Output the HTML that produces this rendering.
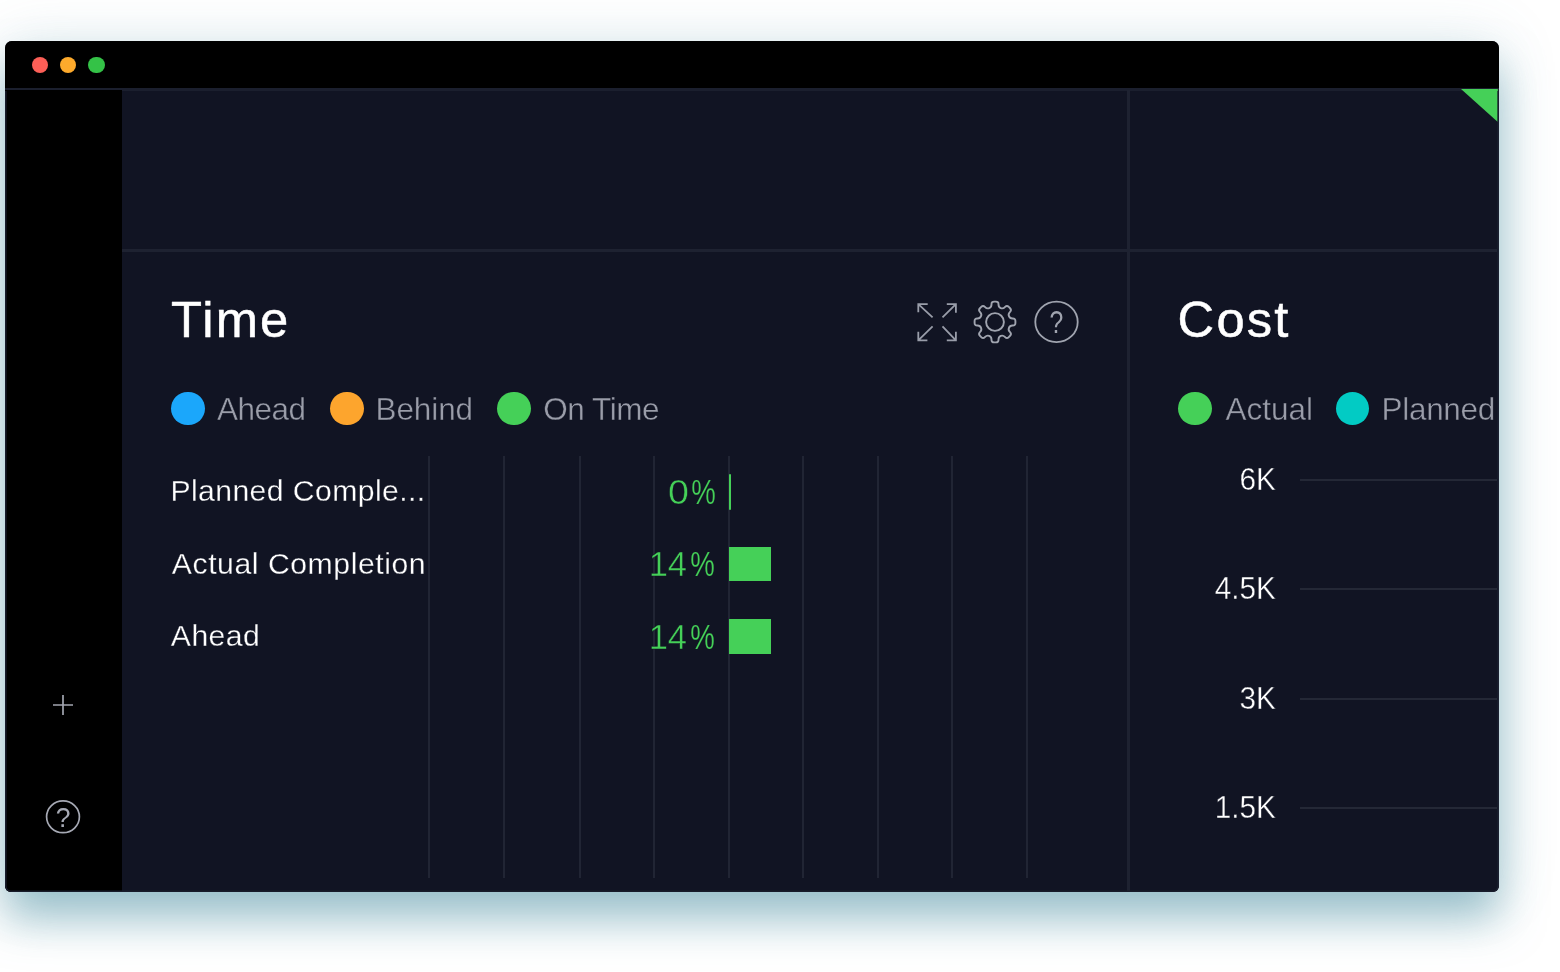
<!DOCTYPE html>
<html lang="en">
<head>
<meta charset="utf-8">
<title>Dashboard</title>
<style>
*{box-sizing:border-box;margin:0;padding:0}
html,body{width:1560px;height:972px;overflow:hidden;background:#fff;font-family:"Liberation Sans",sans-serif}
body{position:relative}
.win{position:absolute;left:5px;top:41px;width:1494px;height:850.6px;background:#111423;border-radius:7px 7px 6px 6px;overflow:hidden}
.shadow{position:absolute;left:5px;top:41px;width:1494px;height:850.6px;border-radius:7px 7px 6px 6px;box-shadow:0 27px 44px rgba(86,149,168,.56),0 0 60px rgba(86,149,168,.17)}
.titlebar{position:absolute;left:0;top:0;width:100%;height:48px;background:#000}
.tb-line{position:absolute;left:0;top:47.2px;width:100%;height:2.6px;background:#1b1f2e}
.dot{position:absolute;width:16.4px;height:16.4px;border-radius:50%;top:15.9px}
.sidebar{position:absolute;left:0;top:49px;width:117px;bottom:0;background:#000}
.hl{position:absolute;left:117px;right:2px;top:208.2px;height:2.6px;background:#1e2231}
.vl{position:absolute;left:1122.1px;top:49px;bottom:0;width:2.6px;background:#1e2231}
h2{position:absolute;font-weight:400;color:#fff;-webkit-text-stroke:.5px #fff;font-size:50.7px;line-height:1;letter-spacing:2.2px;white-space:nowrap}
.lg{position:absolute;width:33.6px;height:33.6px;border-radius:50%;top:350.7px}
.lt{position:absolute;color:#9a9da9;font-size:31.5px;line-height:1;white-space:nowrap;letter-spacing:-.5px;-webkit-text-stroke:.4px #111423}
.row{position:absolute;color:#fff;font-size:30.2px;line-height:1;white-space:nowrap;letter-spacing:.45px;-webkit-text-stroke:.3px #111423}
.pct{position:absolute;color:#45d058;font-size:34.5px;line-height:1;white-space:nowrap;text-align:right;width:120px;letter-spacing:0;-webkit-text-stroke:.5px #111423}
.pct b{font-weight:400;display:inline-block;transform:scaleX(1.09);transform-origin:0 50%}
.pct i{font-style:normal;display:inline-block;transform:scaleX(.8);transform-origin:100% 50%;margin-left:-2.7px;-webkit-text-stroke:.2px #111423}
.bar{position:absolute;background:#45d058;width:42.3px;height:34.8px;left:723.6px}
.g{position:absolute;top:415px;height:422px;width:2px;background:#212534}
.ax{position:absolute;color:#fff;font-size:31.9px;line-height:1;white-space:nowrap;text-align:right;width:120px;left:1150.8px;transform:scaleX(.935);transform-origin:100% 50%;-webkit-text-stroke:.4px #111423}
.gl{position:absolute;left:1295px;right:2px;height:2px;background:#242836}
svg{position:absolute;overflow:visible}
.edge{position:absolute;left:0;top:49.8px;right:0;bottom:0;border-radius:0 0 6px 6px;box-shadow:inset 1.6px 0 0 #181c2b,inset -1.6px 0 0 #1b2030,inset 0 -1.5px 0 #181c2b;pointer-events:none}
</style>
</head>
<body>
<div class="shadow"></div>
<div class="win">
  <div class="titlebar"></div>
  <div class="tb-line"></div>
  <div class="dot" style="left:26.9px;background:#fc5f57"></div>
  <div class="dot" style="left:54.7px;background:#fdaa2c"></div>
  <div class="dot" style="left:83.4px;background:#34c247"></div>
  <div class="sidebar"></div>
  <div class="hl"></div>
  <div class="vl"></div>
  <svg style="left:1456.1px;top:48.3px" width="36.8" height="33" viewBox="0 0 36.8 33"><polygon points="0,0 36.8,0 36.8,33" fill="#45d058"/></svg>

  <h2 style="left:165.9px;top:254px">Time</h2>
  <h2 style="left:1172.6px;top:254px">Cost</h2>

  <!-- icons -->
  <svg style="left:912px;top:262px" width="40" height="38" viewBox="0 0 40 38" fill="none" stroke="#999da9" stroke-width="1.8">
    <path d="M15.6 14.3 L1.3 1.1 M1.3 9.2 V1.1 H10.7"/>
    <path d="M25.5 14.3 L38.9 1.1 M29.8 1.1 H38.9 V9.7"/>
    <path d="M15.6 23.3 L1.3 37.3 M1.3 28.8 V37.3 H10.4"/>
    <path d="M25.5 23.3 L38.9 37.3 M29.8 37.3 H38.9 V28.8"/>
  </svg>
  <svg id="gear" style="left:968.4px;top:258.8px" width="44" height="44" viewBox="-22 -22 44 44" fill="none" stroke="#a0a4af" stroke-width="1.9" stroke-linejoin="round">
    <circle r="8.9"/>
    <path d="M-5.78 -13.95Q-3.49 -14.90 -3.51 -17.50L-3.51 -17.80Q-3.52 -20.40 -0.92 -20.40L0.92 -20.40Q3.52 -20.40 3.51 -17.80L3.51 -17.50Q3.49 -14.90 5.78 -13.95L5.78 -13.95Q8.06 -13.00 9.89 -14.85L10.10 -15.07Q11.93 -16.91 13.77 -15.08L15.08 -13.77Q16.91 -11.93 15.07 -10.10L14.85 -9.89Q13.00 -8.06 13.95 -5.78L13.95 -5.78Q14.90 -3.49 17.50 -3.51L17.80 -3.51Q20.40 -3.52 20.40 -0.92L20.40 0.92Q20.40 3.52 17.80 3.51L17.50 3.51Q14.90 3.49 13.95 5.78L13.95 5.78Q13.00 8.06 14.85 9.89L15.07 10.10Q16.91 11.93 15.08 13.77L13.77 15.08Q11.93 16.91 10.10 15.07L9.89 14.85Q8.06 13.00 5.78 13.95L5.78 13.95Q3.49 14.90 3.51 17.50L3.51 17.80Q3.52 20.40 0.92 20.40L-0.92 20.40Q-3.52 20.40 -3.51 17.80L-3.51 17.50Q-3.49 14.90 -5.78 13.95L-5.78 13.95Q-8.06 13.00 -9.89 14.85L-10.10 15.07Q-11.93 16.91 -13.77 15.08L-15.08 13.77Q-16.91 11.93 -15.07 10.10L-14.85 9.89Q-13.00 8.06 -13.95 5.78L-13.95 5.78Q-14.90 3.49 -17.50 3.51L-17.80 3.51Q-20.40 3.52 -20.40 0.92L-20.40 -0.92Q-20.40 -3.52 -17.80 -3.51L-17.50 -3.51Q-14.90 -3.49 -13.95 -5.78L-13.95 -5.78Q-13.00 -8.06 -14.85 -9.89L-15.07 -10.10Q-16.91 -11.93 -15.08 -13.77L-13.77 -15.08Q-11.93 -16.91 -10.10 -15.07L-9.89 -14.85Q-8.06 -13.00 -5.78 -13.95Z"/>
  </svg>
  <svg style="left:1029px;top:259px" width="44" height="44" viewBox="0 0 44 44" fill="none" stroke="#a0a4af" stroke-width="1.8">
    <ellipse cx="22.5" cy="21.9" rx="21.2" ry="20.2"/>
  </svg>
  <div style="position:absolute;left:1029px;top:265.5px;width:44.8px;text-align:center;color:#a0a4af;font-size:31px;line-height:1;transform:scaleX(.8)">?</div>

  <!-- legends -->
  <div class="lg" style="left:166px;background:#1ba7fb"></div>
  <div class="lt" style="left:212px;top:352.8px">Ahead</div>
  <div class="lg" style="left:325.3px;background:#fda52d"></div>
  <div class="lt" style="left:370.5px;top:352.8px;letter-spacing:-.1px">Behind</div>
  <div class="lg" style="left:492px;background:#45d058"></div>
  <div class="lt" style="left:538.2px;top:352.8px;letter-spacing:-.45px">On Time</div>

  <div class="lg" style="left:1173.2px;background:#45d058"></div>
  <div class="lt" style="left:1220.5px;top:352.8px;letter-spacing:0">Actual</div>
  <div class="lg" style="left:1330.8px;background:#02cbc4"></div>
  <div class="lt" style="left:1376.5px;top:352.8px;letter-spacing:-.3px">Planned</div>

  <!-- grid -->
  <div class="g" style="left:423.4px"></div>
  <div class="g" style="left:498px"></div>
  <div class="g" style="left:573.5px"></div>
  <div class="g" style="left:648.3px"></div>
  <div class="g" style="left:723.4px"></div>
  <div class="g" style="left:797px"></div>
  <div class="g" style="left:871.5px"></div>
  <div class="g" style="left:946px"></div>
  <div class="g" style="left:1021px"></div>

  <div class="row" style="left:165.4px;top:434.9px;letter-spacing:.4px">Planned Comple...</div>
  <div class="row" style="left:166.8px;top:507.5px;letter-spacing:.55px">Actual Completion</div>
  <div class="row" style="left:165.8px;top:580.3px">Ahead</div>

  <div class="pct" style="left:590.6px;top:434.2px"><b>0</b><i>%</i></div>
  <div class="pct" style="left:590px;top:506.4px">14<i>%</i></div>
  <div class="pct" style="left:590px;top:578.8px">14<i>%</i></div>
  <div style="position:absolute;left:723.7px;top:432.5px;width:2.3px;height:36.5px;background:#45d058;border-radius:1.1px"></div>
  <div class="bar" style="top:505.7px"></div>
  <div class="bar" style="top:578px"></div>

  <!-- cost axis -->
  <div class="gl" style="top:438px"></div>
  <div class="gl" style="top:547px"></div>
  <div class="gl" style="top:657px"></div>
  <div class="gl" style="top:766px"></div>
  <div class="ax" style="top:422.6px">6K</div>
  <div class="ax" style="top:532.1px">4.5K</div>
  <div class="ax" style="top:641.6px">3K</div>
  <div class="ax" style="top:751.1px">1.5K</div>

  <!-- sidebar icons -->
  <svg style="left:48px;top:654px" width="20" height="20" viewBox="0 0 20 20" stroke="#a2a5b0" stroke-width="1.7"><path d="M10 0V20M0 10H20"/></svg>
  <svg style="left:41.4px;top:759.4px" width="34" height="34" viewBox="0 0 34 34" fill="none" stroke="#a6a9b4" stroke-width="1.7"><ellipse cx="17" cy="16.8" rx="16.4" ry="15.9"/></svg>
  <div style="position:absolute;left:41.4px;top:764px;width:34px;text-align:center;color:#a6a9b4;font-size:27px;line-height:1;transform:scaleX(.98)">?</div>
  <div class="edge"></div>
</div>
</body>
</html>
